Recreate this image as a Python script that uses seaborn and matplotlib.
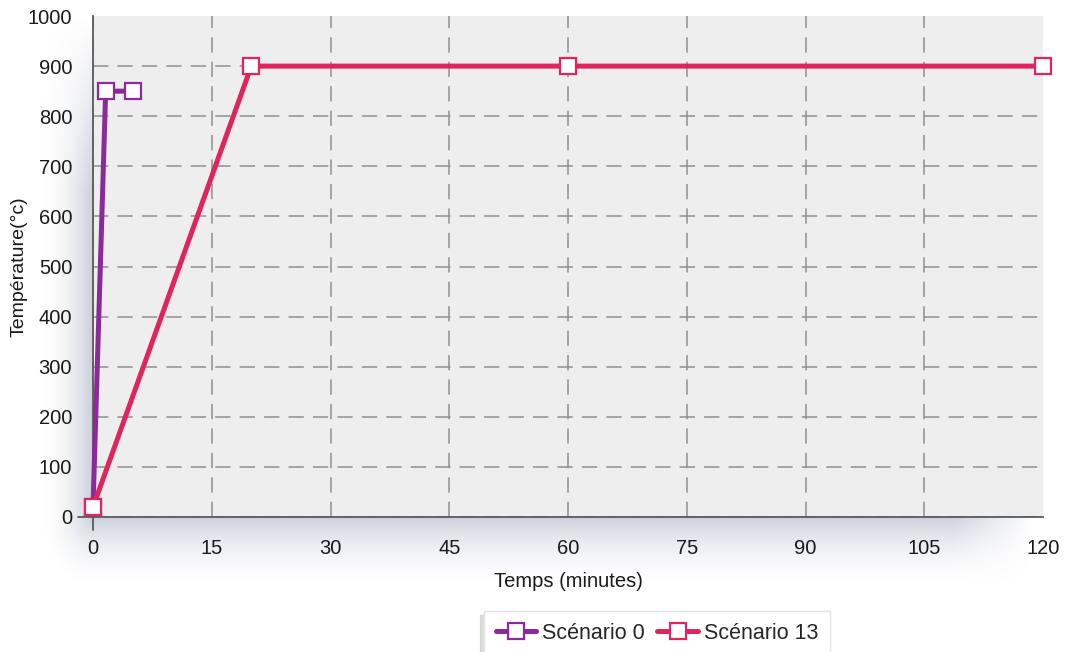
import matplotlib
matplotlib.use("Agg")
import matplotlib.pyplot as plt
import seaborn as sns
import pandas as pd
import numpy as np
from matplotlib.lines import Line2D

# Data
s0_time = [0, 1.6, 5]
s0_temp = [20, 850, 850]
s13_time = [0, 20, 60, 120]
s13_temp = [20, 900, 900, 900]
series_names = ["Scénario 0", "Scénario 13"]
x_ticks = [0, 15, 30, 45, 60, 75, 90, 105, 120]
y_ticks = list(range(0, 1001, 100))

colors = {"Scénario 0": "#8b2a98", "Scénario 13": "#e0245e"}

df = pd.concat([
    pd.DataFrame({"Temps": s0_time, "Temp": s0_temp, "Série": series_names[0]}),
    pd.DataFrame({"Temps": s13_time, "Temp": s13_temp, "Série": series_names[1]}),
])

sns.set_style("white")
plt.rcParams['font.family'] = ['Liberation Sans', 'DejaVu Sans']

W, H = 1068, 652
fig = plt.figure(figsize=(W / 100, H / 100), dpi=100)

# axes rectangle in pixels
L, R, T, B = 93, 1043, 16, 517
shade = (0.60, 0.63, 0.72)


def shadow_patch(x0, y0, w, h, alpha):
    """Place an RGBA gradient (alpha array, row 0 = top) at pixel box."""
    img = np.ones(alpha.shape + (4,))
    img[..., 0], img[..., 1], img[..., 2] = shade
    img[..., 3] = alpha
    a = fig.add_axes([x0 / W, 1 - (y0 + h) / H, w / W, h / H], zorder=-5)
    a.set_axis_off()
    a.imshow(img, extent=[0, 1, 0, 1], aspect="auto", interpolation="bilinear")


# left strip
nL, hL = 55, B - T
gx = np.linspace(0, 1, nL) ** 2
gy = np.clip(np.linspace(0, 1, hL) / 0.35, 0, 1)
shadow_patch(L - nL, T, nL, hL, 0.5 * np.outer(gy, gx))
# bottom strip
nB, wB = 75, R - L
gy2 = np.linspace(1, 0, nB) ** 2
xs = np.arange(wB)
gx2 = np.clip((wB - 10 - xs) / 80.0, 0, 1)
shadow_patch(L, B, wB, nB, 0.5 * np.outer(gy2, gx2))
# corner
cx, cy = np.meshgrid(np.linspace(1, 0, nL), np.linspace(0, 1, nB))
cg = np.clip(1 - np.hypot(cx, cy), 0, 1) ** 2 * 0.5
shadow_patch(L - nL, B, nL, nB, cg)

ax = fig.add_axes([L / W, 1 - B / H, (R - L) / W, (B - T) / H])
ax.set_facecolor("#eeeeee")

for name in series_names:
    sub = df[df["Série"] == name]
    sns.lineplot(data=sub, x="Temps", y="Temp", ax=ax, color=colors[name],
                 linewidth=3.6, marker="s", markersize=11.5,
                 markerfacecolor="white", markeredgecolor=colors[name],
                 markeredgewidth=1.6, sort=False, estimator=None, legend=False,
                 clip_on=False, zorder=5)

ax.set_xlim(0, 120)
ax.set_ylim(0, 1000)
ax.set_xticks(x_ticks)
ax.set_yticks(y_ticks)
ax.grid(True, linestyle=(0, (10, 6)), color="#8f8f8f", linewidth=1.1)
ax.set_axisbelow(True)
ax.get_xgridlines()[-1].set_visible(False)
ax.get_ygridlines()[-1].set_visible(False)
for s in ["top", "right"]:
    ax.spines[s].set_visible(False)
for s in ["left", "bottom"]:
    ax.spines[s].set_color("#5a5a5a")
    ax.spines[s].set_linewidth(1.3)
# axis crossing extensions
ax.plot([-15 / (R - L), 0], [0, 0], transform=ax.transAxes, color="#5a5a5a",
        linewidth=1.3, clip_on=False)
ax.plot([0, 0], [0, -13 / (B - T)], transform=ax.transAxes, color="#5a5a5a",
        linewidth=1.3, clip_on=False)

ax.tick_params(axis="y", direction="out", length=6, width=1.3, color="#5a5a5a",
               labelsize=14.5, labelcolor="#1a1a1a", pad=9)
ax.tick_params(axis="x", direction="out", length=5, width=1.3, color="#5a5a5a",
               labelsize=14.5, labelcolor="#1a1a1a", pad=11)
ax.set_xlabel("Temps (minutes)", fontsize=14.5, color="#1a1a1a", labelpad=10)
ax.set_ylabel("Température(°c)", fontsize=14, color="#1a1a1a", labelpad=0)

handles = [Line2D([0], [0], color=colors[n], linewidth=3.6, marker="s", markersize=12,
                  markerfacecolor="white", markeredgecolor=colors[n], markeredgewidth=1.6)
           for n in series_names]
leg = fig.legend(handles, series_names, loc="lower center", bbox_to_anchor=(0.615, -0.022),
                 ncol=2, fontsize=15.5, frameon=True,
                 shadow={"ox": -3, "oy": -3, "color": "0.75", "alpha": 0.5},
                 handlelength=1.9, handletextpad=0.25, columnspacing=0.6,
                 borderpad=0.55, fancybox=False)
leg.get_frame().set_edgecolor("#e4e4e4")

fig.savefig("out.png", dpi=100, facecolor="white")
